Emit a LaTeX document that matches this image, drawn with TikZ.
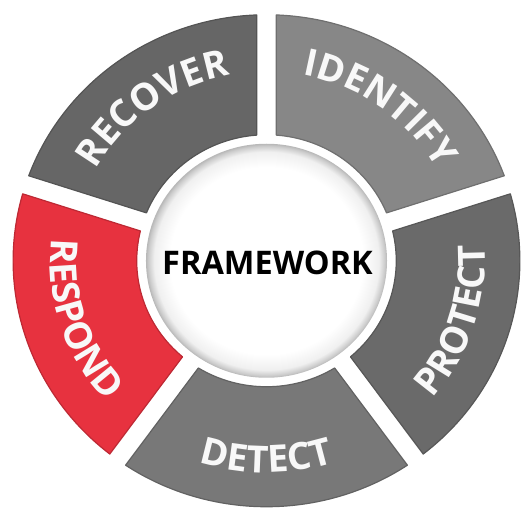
\documentclass[tikz,border=0pt]{standalone}
\usepackage{fontspec}
\newfontfamily\wheelfont{Open Sans}
\usetikzlibrary{decorations.text}
\definecolor{identifygray}{HTML}{878787}
\definecolor{protectgray}{HTML}{6A6A6A}
\definecolor{detectgray}{HTML}{787878}
\definecolor{respondred}{HTML}{E7323F}
\definecolor{recovergray}{HTML}{666666}
\definecolor{segtext}{HTML}{F8F8F8}
\pgfdeclareradialshading{hubshade}{\pgfpoint{0bp}{0bp}}{color(0bp)=(white); color(20bp)=(white); color(23.3bp)=(black!6); color(24.5bp)=(black!20); color(25bp)=(black!28); color(50bp)=(black!28)}
\newcommand\segfont{\wheelfont\bfseries\fontsize{37.5}{37.5}\selectfont}
\begin{document}
\begin{tikzpicture}[x=1pt,y=1pt]
\useasboundingbox (-266.5,-253.25) rectangle (261.5,260.75);
\tikzset{
  segment/.style={line width=1.2pt, line join=round},
  toplabel/.style={decorate, decoration={text along path, text align=center, text color=segtext, text={#1}}},
}
\pgfmathsetmacro\ro{246}
\pgfmathsetmacro\ri{126}
\pgfmathsetmacro\dout{asin(9.5/246)}
\pgfmathsetmacro\din{asin(9.5/126)}
\begin{scope}[xscale=1.03]
  \foreach \a/\b/\c in {18/90/identifygray, -54/18/protectgray, -126/-54/detectgray, 162/234/respondred, 90/162/recovergray}{
    \path[segment, fill=\c, draw=\c!82!black]
      ({\a+\dout}:\ro) arc[start angle={\a+\dout}, end angle={\b-\dout}, radius=\ro]
      -- ({\b-\din}:\ri) arc[start angle={\b-\din}, end angle={\a+\din}, radius=\ri]
      -- cycle;
  }
  % labels on the upper half: clockwise, letter tops outward
  \path[toplabel={|\segfont|RECOVER}] (160:189) arc[start angle=160, end angle=92, radius=189];
  \path[toplabel={|\segfont|IDENTIFY}] (88:189) arc[start angle=88, end angle=20, radius=189];
  % labels on the lower half: counterclockwise, letter tops inward
  \path[toplabel={|\segfont|PROTECT}] (-52:212) arc[start angle=-52, end angle=16, radius=212];
  \path[toplabel={|\segfont|DETECT}] (-124:212) arc[start angle=-124, end angle=-56, radius=212];
  \path[toplabel={|\segfont|RESPOND}] (164:210) arc[start angle=164, end angle=232, radius=210];
  \shade[shading=hubshade] (0,0) circle[radius=117];
\end{scope}
\node[font=\wheelfont\bfseries\fontsize{32.5}{32.5}\selectfont, text=black] (hub) at (1,-1.75) {FRAMEWORK};
\end{tikzpicture}
\end{document}
